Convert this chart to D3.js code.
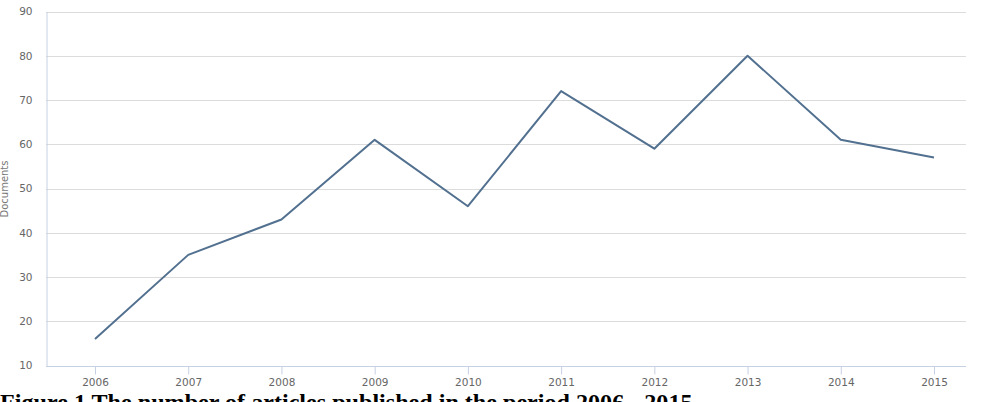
<!DOCTYPE html>
<html><head><meta charset="utf-8">
<script src="https://cdn.jsdelivr.net/npm/d3@7"></script>
<style>body{margin:0;background:#fff;overflow:hidden}</style>
</head><body>
<svg id="c" width="991" height="402"></svg>
<script>
const years = ["2006","2007","2008","2009","2010","2011","2012","2013","2014","2015"];
const documents = [16,35,43,61,46,72,59,80,61,57];
const yTicks = [10,20,30,40,50,60,70,80,90];
const yTitle = "Documents";
const caption = "Figure 1 The number of articles published in the period 2006 - 2015";

(function(){
const svg = d3.select("#c");
const pLeft = 46, pRight = 966, pTop = 11.5, pBottom = 365.5;
const x = d3.scalePoint().domain(years).range([95, 934]);
const y = d3.scaleLinear().domain([10, 90]).range([pBottom, pTop]);

// gridlines
svg.append("g").selectAll("line").data(yTicks.slice(1)).join("line")
  .attr("x1", pLeft).attr("x2", pRight)
  .attr("y1", d => Math.round(y(d)) + 0.5).attr("y2", d => Math.round(y(d)) + 0.5)
  .attr("stroke", "#dcdcdc").attr("stroke-width", 1);

// y axis
const ya = svg.append("g").attr("transform", `translate(${pLeft + 0.5},0)`)
  .call(d3.axisLeft(y).tickValues(yTicks).tickSize(0).tickPadding(14));
ya.select(".domain").attr("stroke", "#c6d1e3");
ya.selectAll("text").attr("fill", "#666").attr("font-family", "DejaVu Sans, sans-serif").attr("font-size", 10.5);

// x axis
const xa = svg.append("g").attr("transform", `translate(0,${Math.round(pBottom) + 0.5})`)
  .call(d3.axisBottom(x).tickSize(8).tickPadding(4));
xa.select(".domain").attr("d", `M${pLeft},0H${pRight}`).attr("stroke", "#c6d1e3");
xa.selectAll(".tick line").attr("stroke", "#c6d1e3");
xa.selectAll("text").attr("fill", "#666").attr("font-family", "DejaVu Sans, sans-serif").attr("font-size", 10.5);

// y title
svg.append("text").attr("transform", `translate(8,189) rotate(-90)`)
  .attr("text-anchor", "middle").attr("fill", "#777")
  .attr("font-family", "DejaVu Sans, sans-serif").attr("font-size", 10)
  .text(yTitle);

// line
const line = d3.line().x((d, i) => x(years[i])).y(d => y(d));
svg.append("path").datum(documents).attr("d", line)
  .attr("fill", "none").attr("stroke", "#52708f").attr("stroke-width", 2)
  .attr("stroke-linejoin", "round");

// caption
const cap = svg.append("text").attr("x", 0).attr("y", 410)
  .attr("font-family", "Liberation Serif, serif").attr("font-weight", "bold")
  .attr("font-size", 20).attr("fill", "#000").text(caption);
const w = cap.node().getComputedTextLength();
cap.attr("font-size", 20 * 693 / w);
})();
</script>
</body></html>
